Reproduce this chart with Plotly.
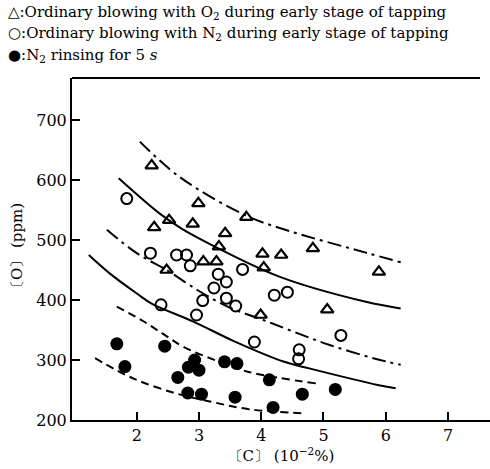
import plotly.graph_objects as go

# Data: C in 10^-2 %, O in ppm
tri_c = [2.24, 2.99, 2.52, 2.28, 2.90, 3.76, 3.42, 3.32, 4.83, 4.02, 4.32, 4.04, 3.07, 3.28, 2.48, 3.99, 5.06, 5.89]
tri_o = [624, 561, 533, 521, 527, 538, 511, 489, 486, 477, 475, 454, 464, 464, 450, 375, 384, 447]

open_c = [1.84, 2.22, 2.64, 2.80, 2.86, 3.70, 3.31, 3.44, 3.24, 3.06, 3.44, 3.59, 2.39, 2.96, 4.21, 4.42, 3.89, 5.28, 4.61, 4.60]
open_o = [569, 478, 475, 475, 457, 451, 443, 430, 420, 399, 403, 390, 392, 375, 408, 413, 330, 341, 317, 302]

fill_c = [1.68, 1.81, 2.45, 2.93, 2.83, 3.00, 2.66, 3.41, 3.61, 2.82, 3.04, 3.58, 4.13, 4.66, 5.19, 4.19]
fill_o = [327, 289, 323, 300, 288, 283, 271, 297, 294, 245, 243, 238, 267, 243, 251, 221]

# Hand-drawn trend curves
curveA_c = [2.05, 2.69, 3.75, 4.45, 5.68, 6.27]
curveA_o = [664, 605, 541, 515, 479, 462]
curveB_c = [1.71, 2.37, 2.72, 3.2, 4.29, 5.68, 6.24]
curveB_o = [603, 544, 519, 492, 439, 397, 386]
curveC_c = [1.52, 2.0, 2.48, 3.0, 3.5, 4.0, 4.5, 5.1, 5.8, 6.24]
curveC_o = [517, 478, 450, 415, 387, 368, 348, 325, 303, 292]
curveD_c = [1.23, 1.57, 2.0, 2.24, 2.91, 3.55, 4.37, 4.77, 5.89, 6.16]
curveD_o = [475, 444, 411, 394, 364, 332, 297, 286, 258, 253]
curveE_c = [1.68, 2.1, 2.43, 2.75, 3.3, 3.8, 4.88]
curveE_o = [389, 365, 343, 322, 298, 280, 261]
curveF_c = [1.33, 1.95, 2.64, 3.17, 3.8, 4.72]
curveF_o = [303, 269, 244, 231, 218, 211]

x_ticks = [2, 3, 4, 5, 6, 7]
y_ticks = [200, 300, 400, 500, 600, 700]

legend_lines = [
    "△:Ordinary blowing with O<sub>2</sub> during early stage of tapping",
    "○:Ordinary blowing with N<sub>2</sub> during early stage of tapping",
    "●:N<sub>2</sub> rinsing for 5 <i>s</i>",
]

SERIF = "DejaVu Serif"
DASHDOT = "14px,5px,3px,5px"
DASHED = "8px,5px"

fig = go.Figure()

curves = [
    (curveA_c, curveA_o, DASHDOT),
    (curveB_c, curveB_o, "solid"),
    (curveC_c, curveC_o, DASHDOT),
    (curveD_c, curveD_o, "solid"),
    (curveE_c, curveE_o, DASHED),
    (curveF_c, curveF_o, DASHED),
]
for cx, cy, dash in curves:
    fig.add_trace(go.Scatter(x=cx, y=cy, mode="lines",
                             line=dict(color="black", width=2, dash=dash, shape="spline", smoothing=1.0),
                             showlegend=False, hoverinfo="skip"))

fig.add_trace(go.Scatter(x=tri_c, y=tri_o, mode="markers",
                         marker=dict(symbol="triangle-up-open", size=11, color="black", line=dict(width=2.2)),
                         showlegend=False))
fig.add_trace(go.Scatter(x=open_c, y=open_o, mode="markers",
                         marker=dict(symbol="circle-open", size=11, color="black", line=dict(width=2)),
                         showlegend=False))
fig.add_trace(go.Scatter(x=fill_c, y=fill_o, mode="markers",
                         marker=dict(symbol="circle", size=13, color="black"),
                         showlegend=False))

fig.update_layout(
    width=490, height=469,
    margin=dict(l=72, r=0, t=78, b=49),
    paper_bgcolor="white", plot_bgcolor="white",
    font=dict(family=SERIF, color="black"),
    xaxis=dict(range=[0.96, 7.675], tickvals=x_ticks, ticktext=[str(v) for v in x_ticks],
               ticks="inside", ticklen=8, tickwidth=2, tickcolor="black",
               showline=True, linecolor="black", linewidth=2, showgrid=False, zeroline=False,
               tickfont=dict(family=SERIF, size=16),
               title=dict(text="〔C〕 (10<sup>−2</sup>%)", font=dict(family=SERIF, size=15), standoff=6)),
    yaxis=dict(range=[200, 770], tickvals=y_ticks, ticktext=[str(v) for v in y_ticks],
               ticks="inside", ticklen=8, tickwidth=2, tickcolor="black",
               showline=True, linecolor="black", linewidth=2, showgrid=False, zeroline=False,
               tickfont=dict(family=SERIF, size=16),
               title=dict(text="〔O〕 (ppm)", font=dict(family=SERIF, size=15), standoff=10)),
    shapes=[dict(type="line", xref="paper", yref="paper", x0=0, x1=0.976, y0=1, y1=1,
                 line=dict(color="black", width=2))],
)

for i, txt in enumerate(legend_lines):
    fig.add_annotation(text=txt, xref="paper", yref="paper",
                       x=-72 / 418 + 6 / 418, y=1 + (78 - (13 + 21 * i)) / 342,
                       xanchor="left", yanchor="middle", showarrow=False,
                       font=dict(family=SERIF, size=15, color="black"))

fig.write_html("out.html")
